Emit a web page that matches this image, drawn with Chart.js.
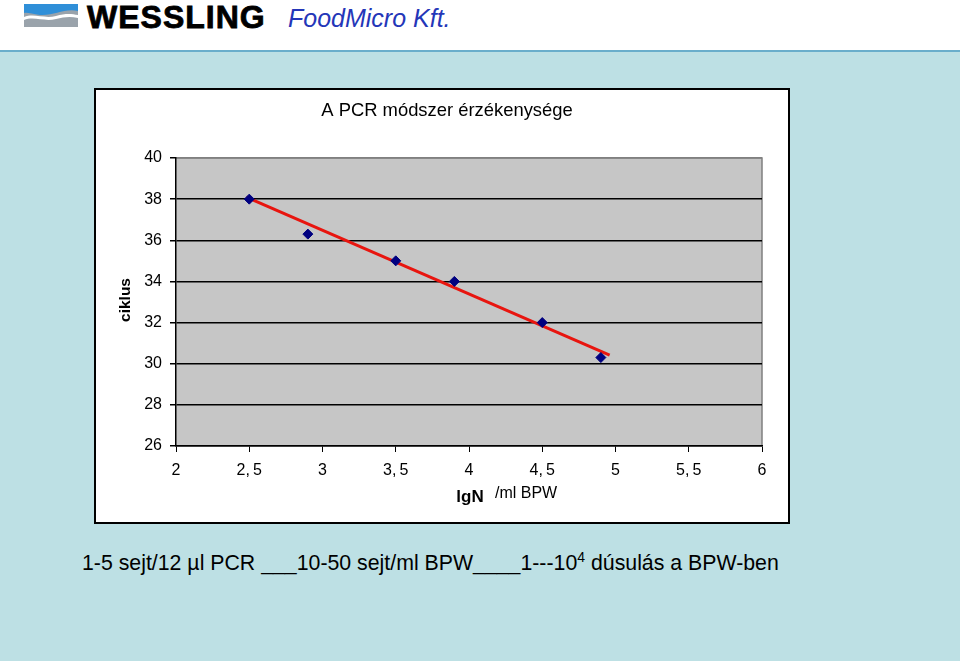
<!DOCTYPE html>
<html>
<head>
<meta charset="utf-8">
<script src="https://cdn.jsdelivr.net/npm/chart.js@4.4.0/dist/chart.umd.min.js"></script>
<style>
  body { margin: 0; width: 960px; height: 661px; background: #bde0e4; position: relative; overflow: hidden; font-family: "Liberation Sans", Arial, sans-serif; }
  #header { position: absolute; left: 0; top: 0; width: 960px; height: 50px; background: #fff; border-bottom: 2px solid #6aaecb; }
  #brand { position: absolute; left: 87px; top: -1px; font-size: 32px; font-weight: bold; color: #000; letter-spacing: 1px; -webkit-text-stroke: 0.8px #000; }
  #sub { position: absolute; left: 288px; top: 4px; font-size: 25px; font-style: italic; color: #2436b8; }
  #box { position: absolute; left: 94px; top: 88px; width: 696px; height: 436px; border: 2px solid #000; box-sizing: border-box; background: #fff; }
  #note { position: absolute; left: 82px; top: 549px; font-size: 21.3px; color: #000; white-space: nowrap; }
</style>
</head>
<body>
<div id="header">
  <svg style="position:absolute;left:24px;top:4px" width="54" height="23">
    <rect x="0" y="0" width="54" height="23" fill="#9aa3ab"/>
    <path d="M0 0 H54 V7 C40 4 30 12 16 11 C8 10 3 8 0 9 Z" fill="#2f8fd8"/>
    <path d="M0 13 C10 9 20 15 32 12 C42 9 48 10 54 11 V14 C46 12 40 13 32 15 C20 18 10 12 0 16 Z" fill="#fff"/>
  </svg>
  <div id="brand">WESSLING</div>
  <div id="sub">FoodMicro Kft.</div>
</div>
<div id="box"><canvas id="c" width="692" height="432"></canvas></div>
<div id="note">1-5 sejt/12 µl PCR ___10-50 sejt/ml BPW____1---10<sup style="font-size:14px">4</sup> dúsulás a BPW-ben</div>
<script>
// measured points (lgN, ciklus)
const lgN = [2.5, 2.9, 3.5, 3.9, 4.5, 4.9];
const ciklus = [38.0, 36.3, 35.0, 34.0, 32.0, 30.3];
// trend line end points as drawn
const trendX = [2.48, 4.96];
const trendY = [38.1, 30.42];
const yTicks = [26, 28, 30, 32, 34, 36, 38, 40];
const xTicks = [2, 2.5, 3, 3.5, 4, 4.5, 5, 5.5, 6];

const chartTitle = "A PCR módszer érzékenysége";
const yTitle = "ciklus";
const xTitle = "lgN";
const xUnit = "/ml BPW";

const textPlugin = {
  id: "texts",
  beforeDraw(chart) {
    const { ctx, chartArea: a } = chart;
    ctx.save();
    ctx.fillStyle = "#c6c6c6";
    ctx.fillRect(a.left, a.top, a.right - a.left, a.bottom - a.top);
    ctx.strokeStyle = "#808080";
    ctx.lineWidth = 1.5;
    ctx.beginPath();
    ctx.moveTo(a.left, a.top);
    ctx.lineTo(a.right, a.top);
    ctx.lineTo(a.right, a.bottom);
    ctx.stroke();
    ctx.restore();
  },
  afterDraw(chart) {
    const { ctx, chartArea: a } = chart;
    ctx.save();
    ctx.fillStyle = "#000";
    ctx.font = "18.4px 'Liberation Sans', Arial";
    ctx.textAlign = "center";
    ctx.textBaseline = "middle";
    ctx.fillText(chartTitle, 351, 21);
    ctx.font = "bold 17px 'Liberation Sans', Arial";
    ctx.fillText(xTitle, 374, 407);
    ctx.font = "16px 'Liberation Sans', Arial";
    ctx.textAlign = "left";
    ctx.fillText(xUnit, 399, 404);
    ctx.translate(30, (a.top + a.bottom) / 2 - 2);
    ctx.rotate(-Math.PI / 2);
    ctx.textAlign = "center";
    ctx.font = "bold 15.5px 'Liberation Sans', Arial";
    ctx.fillText(yTitle, 0, 0);
    ctx.restore();
  }
};

new Chart(document.getElementById("c"), {
  type: "scatter",
  data: {
    datasets: [
      {
        data: lgN.map((x, i) => ({ x, y: ciklus[i] })),
        pointStyle: "rectRot",
        pointRadius: 5,
        pointBackgroundColor: "#000080",
        pointBorderColor: "#000080",
        showLine: false
      },
      {
        data: trendX.map((x, i) => ({ x, y: trendY[i] })),
        showLine: true,
        borderColor: "#e8150f",
        borderWidth: 3,
        pointRadius: 0
      }
    ]
  },
  plugins: [textPlugin],
  options: {
    responsive: false,
    animation: false,
    layout: { padding: { top: 68, right: 26, left: 0, bottom: 0 } },
    plugins: { legend: { display: false }, title: { display: false }, tooltip: { enabled: false } },
    scales: {
      x: {
        type: "linear",
        min: 2, max: 6,
        afterBuildTicks: s => { s.ticks = xTicks.map(v => ({ value: v })); },
        afterFit: s => { s.height = 76; },
        grid: { drawOnChartArea: false, drawTicks: true, tickLength: 6, color: "#000" },
        border: { color: "#000", width: 1.5 },
        ticks: {
          color: "#000",
          font: { size: 16, family: "'Liberation Sans', Arial" },
          padding: 9,
          maxRotation: 0,
          callback: v => String(v).replace(".", ",\u2009")
        }
      },
      y: {
        min: 26, max: 40,
        afterBuildTicks: s => { s.ticks = yTicks.map(v => ({ value: v })); },
        afterFit: s => { s.width = 80; },
        grid: {
          color: ctx => (ctx.tick && ctx.tick.value === 40 ? "#808080" : "#000"),
          lineWidth: 1.5,
          tickLength: 6,
          tickColor: "#000"
        },
        border: { color: "#000", width: 1.5 },
        ticks: {
          color: "#000",
          font: { size: 16, family: "'Liberation Sans', Arial" },
          padding: 8
        }
      }
    }
  }
});
</script>
</body>
</html>
